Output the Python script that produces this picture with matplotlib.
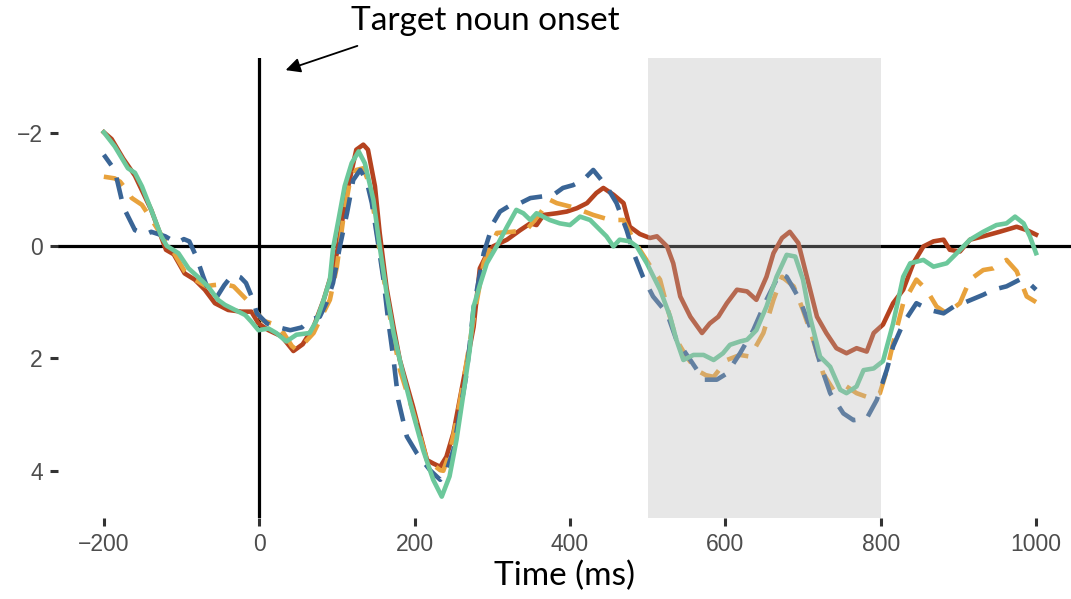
import matplotlib.pyplot as plt

plt.rcParams['font.family'] = ['Liberation Sans', 'DejaVu Sans']

# ERP waveforms, time in ms, amplitude in microvolts (negative plotted up)
t_red = [-200, -190, -175, -160, -139, -120, -110, -96, -83, -70, -57, -40, -23, -10, -1,
         12, 29, 44, 56, 70, 83, 92, 100, 113, 125, 134, 140, 149, 155, 164, 173, 181,
         198, 216, 224, 233, 241, 250, 263, 276, 284, 293, 301, 319, 336, 349, 357, 366,
         383, 396, 409, 422, 434, 443, 456, 469, 477, 490, 503, 512, 525, 533, 542, 555,
         570, 580, 591, 602, 615, 628, 640, 653, 662, 673, 683, 694, 705, 718, 730, 743,
         756, 769, 782, 791, 803, 816, 829, 842, 855, 868, 881, 889, 902, 915, 932, 953,
         975, 988, 1000]
v_red = [-2.02, -1.90, -1.55, -1.25, -0.64, 0.07, 0.15, 0.49, 0.60, 0.78, 1.02, 1.14, 1.17, 1.17, 1.38,
         1.50, 1.61, 1.87, 1.75, 1.44, 0.96, 0.55, 0.13, -0.96, -1.71, -1.80, -1.71, -1.06, -0.24, 0.75, 1.45, 2.03,
         2.86, 3.81, 3.87, 3.93, 3.75, 3.33, 2.38, 1.44, 0.40, 0.15, 0.01, -0.11, -0.28, -0.40, -0.37, -0.55,
         -0.58, -0.61, -0.67, -0.76, -0.94, -1.03, -0.91, -0.76, -0.34, -0.21, -0.14, -0.17, 0.01, 0.31, 0.90, 1.26,
         1.55, 1.38, 1.26, 1.02, 0.78, 0.81, 0.96, 0.55, 0.13, -0.14, -0.25, -0.05, 0.55, 1.26, 1.55, 1.82,
         1.91, 1.82, 1.88, 1.55, 1.40, 1.02, 0.78, 0.31, 0.01, -0.08, -0.11, 0.07, 0.10, -0.11, -0.17, -0.25,
         -0.34, -0.28, -0.20]

t_orange = [-200, -186, -179, -170, -164, -151, -140, -130, -122, -110, -96, -83, -68, -60, -45,
            -33, -16, -5, 5, 16, 29, 42, 48, 60, 70, 78, 91, 100, 108, 117, 125, 134, 143,
            151, 160, 170, 181, 198, 216, 233, 237, 245, 254, 263, 276, 289, 306, 325, 344,
            360, 374, 383, 400, 413, 430, 452, 469, 482, 490, 503, 516, 525, 537, 550, 563,
            575, 585, 602, 619, 632, 649, 662, 673, 688, 700, 713, 726, 739, 756, 769, 785,
            799, 808, 816, 829, 846, 859, 872, 885, 902, 915, 932, 945, 962, 975, 988, 1000]
v_orange = [-1.23, -1.20, -1.14, -0.98, -0.85, -0.73, -0.50, -0.28, -0.11, 0.12, 0.45, 0.60, 0.72, 0.70, 0.68,
            0.72, 0.96, 1.15, 1.33, 1.38, 1.50, 1.78, 1.85, 1.70, 1.55, 1.32, 0.96, 0.37, -0.46, -1.17, -1.35, -1.38, -1.06,
            -0.28, 0.55, 1.40, 2.20, 2.95, 3.81, 3.99, 4.00, 3.69, 3.10, 2.40, 1.30, 0.30, -0.23, -0.25, -0.28,
            -0.55, -0.82, -0.76, -0.70, -0.64, -0.55, -0.46, -0.46, -0.11, 0.07, 0.35, 0.60, 1.08, 1.67, 1.97, 2.21,
            2.30, 2.33, 2.03, 1.94, 1.97, 1.55, 0.96, 0.55, 0.72, 1.14, 1.67, 2.27, 2.56, 2.50, 2.62, 2.70,
            2.62, 2.21, 1.73, 1.02, 0.60, 0.78, 1.08, 1.20, 1.02, 0.60, 0.43, 0.40, 0.25, 0.45, 0.90, 1.00]

t_blue = [-200, -186, -177, -173, -160, -147, -139, -121, -106, -97, -90, -81, -72, -64, -55,
          -45, -37, -31, -24, -17, -8, -3, 10, 22, 40, 55, 65, 78, 87, 95, 104, 113, 121,
          130, 138, 145, 153, 160, 166, 173, 179, 190, 203, 220, 233, 240, 250, 258, 267,
          276, 284, 289, 301, 310, 323, 336, 349, 365, 379, 391, 404, 417, 430, 447, 460,
          473, 482, 494, 507, 525, 537, 555, 572, 589, 602, 619, 636, 653, 670, 679, 696,
          709, 722, 735, 752, 765, 782, 795, 808, 816, 829, 846, 863, 881, 894, 906, 932,
          945, 962, 979, 990, 1000]
v_blue = [-1.62, -1.35, -0.82, -0.64, -0.28, -0.20, -0.25, -0.17, -0.05, -0.12, -0.08, 0.19, 0.55, 0.84, 0.92,
          0.70, 0.56, 0.52, 0.56, 0.66, 0.96, 1.20, 1.38, 1.44, 1.50, 1.45, 1.32, 1.26, 1.00, 0.66, 0.00, -0.58, -1.17,
          -1.35, -1.17, -0.76, -0.05, 0.60, 1.32, 2.03, 2.74, 3.39, 3.69, 3.99, 4.16, 4.05, 3.63, 2.98, 2.27,
          1.10, 0.50, 0.13, -0.40, -0.61, -0.72, -0.76, -0.85, -0.88, -0.91, -1.03, -1.08, -1.17, -1.35, -1.06, -0.76,
          -0.28, 0.13, 0.55, 0.90, 1.20, 1.67, 2.03, 2.38, 2.38, 2.27, 1.91, 1.50, 0.96, 0.49, 0.55, 0.96,
          1.44, 2.09, 2.62, 2.98, 3.10, 3.07, 2.74, 2.20, 1.79, 1.38, 1.02, 1.14, 1.20, 1.08, 1.02, 0.87,
          0.78, 0.72, 0.60, 0.65, 0.78]

t_green = [-200, -186, -169, -160, -151, -139, -126, -119, -104, -91, -79, -66, -53, -44, -31,
           -18, -10, -1, 12, 22, 35, 48, 65, 74, 83, 91, 95, 102, 110, 119, 128, 136, 147,
           155, 164, 173, 185, 198, 211, 224, 235, 245, 254, 263, 271, 276, 284, 293, 306,
           319, 331, 340, 349, 357, 374, 387, 400, 413, 426, 439, 447, 456, 464, 477, 486,
           499, 516, 529, 537, 546, 559, 572, 585, 597, 606, 619, 628, 640, 653, 666, 679,
           690, 700, 709, 722, 735, 748, 756, 769, 778, 791, 803, 816, 829, 838, 855, 868,
           885, 898, 915, 932, 949, 962, 973, 984, 992, 1000]
v_green = [-2.02, -1.77, -1.38, -1.30, -1.06, -0.64, -0.17, 0.00, 0.13, 0.40, 0.55, 0.72, 0.96, 1.05, 1.14,
           1.23, 1.35, 1.50, 1.47, 1.55, 1.70, 1.58, 1.55, 1.32, 0.96, 0.60, 0.05, -0.46, -1.06, -1.47, -1.68, -1.47, -0.82,
           0.00, 0.84, 1.55, 2.27, 2.98, 3.63, 4.16, 4.46, 4.10, 3.45, 2.62, 1.85, 1.08, 0.70, 0.31, 0.00,
           -0.34, -0.64, -0.58, -0.46, -0.58, -0.46, -0.40, -0.37, -0.52, -0.46, -0.28, -0.17, 0.01, -0.11, -0.08, 0.01,
           0.31, 0.78, 1.26, 1.67, 2.03, 1.94, 1.94, 2.03, 1.91, 1.76, 1.70, 1.67, 1.50, 1.08, 0.55, 0.16,
           0.19, 0.60, 1.26, 1.97, 2.15, 2.56, 2.62, 2.50, 2.21, 2.18, 2.05, 1.38, 0.55, 0.31, 0.25, 0.37,
           0.31, 0.13, -0.11, -0.25, -0.37, -0.40, -0.52, -0.40, -0.17, 0.13]

x_ticks = [-200, 0, 200, 400, 600, 800, 1000]
y_ticks = [-2, 0, 2, 4]
window = (500, 800)

fig = plt.figure(figsize=(10.71, 5.99), dpi=100)
ax = fig.add_axes([58 / 1071, 81 / 599, 1013 / 1071, 460.5 / 599])

ax.axhline(0, color='black', lw=2.3, zorder=1)
ax.axvline(0, color='black', lw=2.3, zorder=1)

lw = 3.3
ax.plot(t_red, v_red, color='#b5431f', lw=lw, zorder=2, solid_joinstyle='round')
ax.plot(t_orange, v_orange, color='#e8a23c', lw=lw, ls=(0, (4.8, 3)), zorder=3)
ax.plot(t_blue, v_blue, color='#3a6596', lw=lw, ls=(2, (4.8, 3)), zorder=4)
ax.plot(t_green, v_green, color='#6cc89b', lw=lw, zorder=5, solid_joinstyle='round')

ax.axvspan(*window, color='#b9b9b9', alpha=0.33, lw=0, zorder=6)

ax.set_xlim(-259, 1045)
ax.set_ylim(4.84, -3.35)
ax.set_xticks(x_ticks)
ax.set_yticks(y_ticks)
for s in ax.spines.values():
    s.set_visible(False)
ax.tick_params(colors='#333333', labelcolor='#4d4d4d', labelsize=16.5,
               length=6, width=2.2, pad=5)
for lab in ax.get_xticklabels() + ax.get_yticklabels():
    lab.set_family(['Liberation Sans', 'DejaVu Sans'])
ax.set_xlabel('Time (ms)', fontsize=24, labelpad=3, family=['Lato', 'DejaVu Sans'])

ax.annotate('', xy=(283 / 1071, 1 - 71 / 599), xytext=(360 / 1071, 1 - 45 / 599),
            xycoords='figure fraction', textcoords='figure fraction',
            arrowprops=dict(arrowstyle='-|>', color='black', lw=1.3,
                            mutation_scale=22))
fig.text(485 / 1071, 1 - 21 / 599, 'Target noun onset', fontsize=24,
         ha='center', va='center', family=['Lato', 'DejaVu Sans'])

fig.savefig('out.png', dpi=100)
